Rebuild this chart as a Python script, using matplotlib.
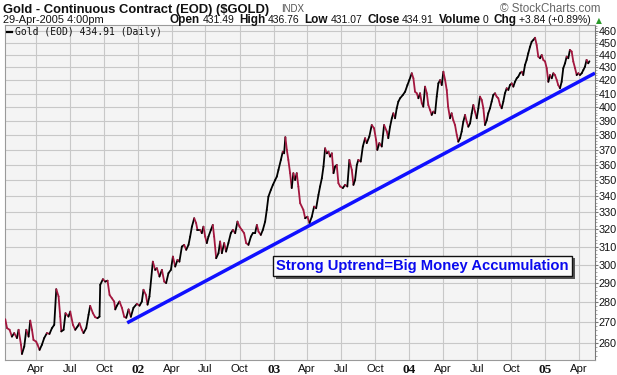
import matplotlib
matplotlib.use("Agg")
import matplotlib.pyplot as plt
import numpy as np
from matplotlib.collections import LineCollection
from matplotlib.ticker import FixedLocator, FixedFormatter, NullLocator
from matplotlib import patheffects as pe
from matplotlib.lines import Line2D

# ---------------- data (dates as decimal years, gold close in $) ----------------
d2001 = [2001.020, 2001.033, 2001.052, 2001.069, 2001.086, 2001.106, 2001.118, 2001.136, 2001.143, 2001.160,
         2001.175, 2001.192, 2001.204, 2001.217, 2001.228, 2001.248, 2001.258, 2001.273, 2001.290, 2001.307,
         2001.327, 2001.346, 2001.364, 2001.381, 2001.396, 2001.413, 2001.425, 2001.433, 2001.450, 2001.464,
         2001.486, 2001.499, 2001.519, 2001.536, 2001.553, 2001.567, 2001.585, 2001.597, 2001.617, 2001.634,
         2001.646, 2001.666, 2001.683, 2001.700, 2001.715, 2001.720, 2001.740, 2001.757, 2001.774, 2001.789,
         2001.806, 2001.823, 2001.831, 2001.843, 2001.862, 2001.880, 2001.897, 2001.912, 2001.929, 2001.946,
         2001.965, 2001.990]
p2001 = [271.5, 267.1, 266.3, 263.0, 264.7, 262.3, 266.3, 259.1, 254.8, 258.3,
         266.3, 263.0, 270.8, 266.3, 261.4, 260.6, 259.1, 256.7, 259.1, 262.3,
         264.7, 264.3, 267.1, 268.7, 286.8, 283.0, 272.8, 265.5, 266.3, 274.5,
         272.8, 275.3, 268.7, 266.3, 267.9, 269.5, 266.3, 264.7, 267.1, 273.7,
         278.2, 274.5, 272.5, 272.0, 272.8, 289.1, 292.1, 290.8, 291.3, 283.8,
         282.1, 280.4, 276.4, 278.3, 280.4, 277.2, 272.7, 272.2, 276.4, 272.7,
         277.2, 279.2]

d2002 = [2002.010, 2002.027, 2002.039, 2002.057, 2002.069, 2002.083,
         2002.088, 2002.108, 2002.125, 2002.138, 2002.157, 2002.175, 2002.192, 2002.206, 2002.223, 2002.241,
         2002.256, 2002.273, 2002.290, 2002.304, 2002.322, 2002.339, 2002.354, 2002.371, 2002.383, 2002.396,
         2002.413, 2002.427, 2002.437, 2002.457, 2002.469, 2002.481, 2002.494, 2002.506, 2002.518, 2002.536,
         2002.550, 2002.560, 2002.575, 2002.592, 2002.604, 2002.617, 2002.634, 2002.648, 2002.665, 2002.683,
         2002.698, 2002.715, 2002.732, 2002.747, 2002.764, 2002.781, 2002.796, 2002.813, 2002.831, 2002.845,
         2002.862, 2002.875, 2002.887, 2002.904, 2002.919, 2002.936, 2002.948, 2002.960, 2002.978, 2002.993]
p2002 = [278.3, 280.4, 286.5, 283.8, 278.8, 283.0,
         286.5, 301.6, 297.1, 298.0, 293.5, 297.1, 290.8, 290.0, 295.3, 297.1,
         304.4, 298.9, 302.6, 301.6, 310.0, 311.0, 308.2, 311.0, 315.7, 321.5,
         326.5, 323.6, 319.6, 319.6, 317.7, 321.5, 315.7, 312.0, 315.7, 319.6,
         322.5, 315.7, 303.5, 306.3, 312.9, 306.3, 312.0, 307.2, 312.0, 317.7,
         319.6, 317.7, 324.5, 321.5, 319.6, 317.7, 312.0, 311.0, 315.7, 317.7,
         317.7, 322.5, 318.6, 316.7, 319.6, 324.5, 331.5, 339.6, 343.8, 347.0]

d2003 = [2003.010, 2003.022, 2003.034, 2003.052, 2003.066, 2003.076, 2003.085, 2003.096, 2003.107, 2003.120,
         2003.132, 2003.144, 2003.157, 2003.169, 2003.181, 2003.194, 2003.218, 2003.231, 2003.248, 2003.263,
         2003.280, 2003.297, 2003.312, 2003.329, 2003.341, 2003.354, 2003.366, 2003.378, 2003.391, 2003.403,
         2003.415, 2003.428, 2003.440, 2003.452, 2003.464, 2003.476, 2003.489, 2003.509, 2003.525, 2003.542,
         2003.557, 2003.575, 2003.587, 2003.599, 2003.612, 2003.623, 2003.641, 2003.656, 2003.673, 2003.685,
         2003.704, 2003.722, 2003.739, 2003.754, 2003.763, 2003.778, 2003.796, 2003.813, 2003.833, 2003.844,
         2003.857, 2003.870, 2003.881, 2003.894, 2003.906, 2003.918, 2003.931, 2003.951, 2003.968, 2003.985,
         2003.999]
p2003 = [350.1, 352.3, 356.6, 363.2, 368.7, 367.6, 378.6, 369.9, 363.2, 354.5,
         345.0, 354.5, 350.1, 354.5, 345.9, 335.6, 331.5, 326.5, 327.4, 323.6,
         327.4, 333.5, 332.5, 340.7, 346.0, 351.2, 358.8, 371.0, 367.6, 368.7,
         365.4, 367.6, 354.5, 358.8, 359.9, 348.1, 346.0, 345.0, 347.0, 346.0,
         363.2, 356.6, 347.0, 350.1, 359.9, 363.2, 362.1, 372.1, 377.9, 374.5,
         379.0, 387.1, 384.8, 376.7, 369.9, 374.5, 372.2, 387.1, 382.5, 377.9,
         385.9, 391.9, 395.5, 391.9, 399.1, 404.0, 406.5, 408.9, 411.4, 416.4,
         420.2]

d2004 = [2004.017, 2004.029, 2004.041, 2004.054, 2004.066, 2004.078, 2004.091, 2004.102, 2004.115, 2004.128,
         2004.139, 2004.152, 2004.164, 2004.176, 2004.189, 2004.201, 2004.213, 2004.226, 2004.238, 2004.250,
         2004.263, 2004.275, 2004.285, 2004.299, 2004.311, 2004.323, 2004.336, 2004.349, 2004.360, 2004.373,
         2004.385, 2004.397, 2004.410, 2004.422, 2004.434, 2004.447, 2004.459, 2004.471, 2004.483, 2004.496,
         2004.508, 2004.520, 2004.533, 2004.545, 2004.557, 2004.570, 2004.581, 2004.594, 2004.606, 2004.618,
         2004.631, 2004.643, 2004.655, 2004.668, 2004.680, 2004.692, 2004.704, 2004.717, 2004.729, 2004.741,
         2004.754, 2004.766, 2004.778, 2004.791, 2004.802, 2004.815, 2004.828, 2004.839, 2004.852, 2004.864,
         2004.876, 2004.889, 2004.901, 2004.913, 2004.926, 2004.938, 2004.950, 2004.963, 2004.975, 2004.987]
p2004 = [425.5, 421.6, 411.4, 410.2, 406.5, 410.2, 402.8, 400.3, 415.2, 410.2,
         401.5, 397.9, 394.3, 396.7, 395.5, 407.7, 417.7, 420.2, 416.4, 426.7,
         420.2, 412.6, 400.3, 391.9, 395.5, 390.6, 387.1, 380.1, 375.5, 377.9,
         382.5, 389.4, 394.3, 389.4, 385.9, 388.3, 395.5, 401.5, 396.7, 391.9,
         399.1, 407.7, 405.2, 399.1, 387.1, 390.6, 395.5, 399.1, 404.0, 408.9,
         410.2, 407.7, 406.5, 401.5, 399.1, 404.0, 410.2, 414.0, 412.7, 416.4,
         417.7, 415.2, 418.9, 421.6, 422.8, 425.5, 426.7, 424.1, 432.0, 436.0,
         441.3, 446.6, 450.7, 452.1, 454.0, 448.0, 438.6, 437.3, 439.9, 436.0]

d2005 = [2005.000, 2005.012, 2005.024, 2005.036, 2005.049, 2005.061, 2005.073, 2005.086, 2005.097, 2005.110,
         2005.122, 2005.134, 2005.147, 2005.159, 2005.171, 2005.183, 2005.196, 2005.208, 2005.221, 2005.233,
         2005.245, 2005.257, 2005.270, 2005.282, 2005.294, 2005.306, 2005.318, 2005.327]
p2005 = [434.7, 429.4, 418.9, 424.1, 421.6, 425.5, 424.1, 420.2, 416.4, 414.0,
         418.9, 429.4, 433.3, 438.6, 437.3, 444.0, 442.7, 434.7, 429.4, 424.1,
         425.5, 424.1, 425.5, 428.0, 430.6, 436.0, 433.3, 434.9]

trend_dates = [2001.919, 2005.368]
trend_values = [269.7, 425.6]

y_ticks = list(range(260, 461, 10))
tick_years = [2001, 2002, 2003, 2004, 2005]
tick_months = ["Jan", "Apr", "Jul", "Oct"]
year_labels = ["01", "02", "03", "04", "05"]

title = "Gold - Continuous Contract (EOD) ($GOLD)"
date_str = "29-Apr-2005 4:00pm"
ohlc = [("Open", "431.49"), ("High", "436.76"), ("Low", "431.07"), ("Close", "434.91"),
        ("Volume", "0"), ("Chg", "+3.84 (+0.89%)")]
legend_text = "Gold (EOD) 434.91 (Daily)"
note_text = "Strong Uptrend=Big Money Accumulation"

SANS = "Liberation Sans"
plt.rcParams["font.family"] = [SANS, "DejaVu Sans"]

# ---------------- figure ----------------
W, H = 617, 375
fig = plt.figure(figsize=(W / 100, H / 100), dpi=100)
fig.patch.set_facecolor("white")
ax = fig.add_axes([5 / W, 1 - 360 / H, 590 / W, 335 / H])
ax.set_facecolor("#f4f4f4")
ax.set_yscale("log")
ax.set_xlim(2001.018, 2005.368)
ax.set_ylim(252.0, 464.7)

# price line coloured by direction (up = black, down = red)
dates = np.array(d2001 + d2002 + d2003 + d2004 + d2005)
prices = np.array(p2001 + p2002 + p2003 + p2004 + p2005)
pts = np.column_stack([dates, prices])
segs = np.stack([pts[:-1], pts[1:]], axis=1)
cols = ["#000000" if b >= a else "#a3173f" for a, b in zip(prices[:-1], prices[1:])]
lc = LineCollection(segs, colors=cols, linewidths=1.3, zorder=3, capstyle="round", joinstyle="round")
ax.add_collection(lc)

# trend line
ax.plot(trend_dates, trend_values, color="#1010ff", lw=2.5, zorder=4, solid_capstyle="butt")

# y axis
ax.yaxis.set_major_locator(FixedLocator(y_ticks))
ax.yaxis.set_major_formatter(FixedFormatter([str(v) for v in y_ticks]))
ax.yaxis.set_minor_locator(FixedLocator(list(range(254, 465, 2))))
ax.yaxis.set_minor_formatter(FixedFormatter([]))
ax.yaxis.tick_right()
ax.tick_params(axis="y", which="major", length=2.2, width=0.8, color="#777777", pad=0.6,
               labelsize=7.8, labelcolor="#111111")
ax.tick_params(axis="y", which="minor", length=1.2, width=0.6, color="#999999")

# x axis: quarterly ticks
month_frac = {"Jan": 0.0, "Apr": 90 / 365, "Jul": 181 / 365, "Oct": 273 / 365}
xt, xl = [], []
for yr, ylab in zip(tick_years, year_labels):
    for m in tick_months:
        pos = yr + month_frac[m]
        if 2001.018 < pos < 2005.368:
            xt.append(pos)
            xl.append(ylab if m == "Jan" else m)
ax.xaxis.set_major_locator(FixedLocator(xt))
ax.xaxis.set_major_formatter(FixedFormatter(xl))
ax.xaxis.set_minor_locator(NullLocator())
ax.tick_params(axis="x", length=0, pad=3, labelsize=8.2, labelcolor="#111111")
for lab in ax.get_xticklabels():
    if lab.get_text() in year_labels:
        lab.set_fontfamily("Liberation Serif")
        lab.set_fontweight("bold")
        lab.set_fontsize(9.5)

ax.grid(True, which="major", color="#c8c8c8", lw=0.8, zorder=0)
ax.set_axisbelow(True)
for s in ["top", "left", "bottom"]:
    ax.spines[s].set_color("#9a9a9a")
    ax.spines[s].set_linewidth(0.8)
ax.spines["right"].set_color("#777777")
ax.spines["right"].set_linewidth(0.8)

# annotation box
t = ax.text(0.708, 0.281, note_text, transform=ax.transAxes, ha="center", va="center",
            color="#0a0aee", fontweight="bold", fontfamily=SANS, fontsize=10.6, zorder=6,
            bbox=dict(boxstyle="square,pad=0.22", fc="#fbfbfb", ec="#111111", lw=1.0))
t.get_bbox_patch().set_path_effects([pe.SimplePatchShadow(offset=(2, -2), shadow_rgbFace="#555555", alpha=1.0),
                                     pe.Normal()])

# legend inside plot
fig.add_artist(Line2D([7 / W, 12 / W], [1 - 32 / H, 1 - 32 / H], color="black", lw=1.6))
fig.text(15 / W, 1 - 32 / H, legend_text, ha="left", va="center", fontsize=7.0,
         fontfamily="DejaVu Sans Mono", color="#111111")

# header texts
fig.canvas.draw()
r = fig.canvas.get_renderer()


def fit_text(x0, x1, yb, s, size0, **kw):
    a = fig.text(x0 / W, 1 - yb / H, s, ha="left", va="baseline", fontsize=size0, **kw)
    w = a.get_window_extent(r).width
    a.set_fontsize(size0 * (x1 - x0) / w)
    return a


fit_text(3, 271, 12.5, title, 10.0, fontweight="bold", color="#111111")
fig.text(281 / W, 1 - 12 / H, "INDX", ha="left", va="baseline", fontsize=7.0,
         color="#555555", fontfamily=SANS)
fig.text(600 / W, 1 - 11.5 / H, "\u00a9 StockCharts.com", ha="right", va="baseline", fontsize=8.4,
         color="#666666", fontfamily=SANS)
fit_text(3, 104, 23, date_str, 7.5, color="#111111")

# OHLC row: lay out pieces, then scale to span the reference width
base_y = 1 - 23 / H
items = []
for lbl, val in ohlc:
    items += [(lbl, True), (val, False)]


def build(scale, x0):
    arts = []
    x = x0
    for s, bold in items:
        a = fig.text(x / W, base_y, s, ha="left", va="baseline",
                     fontsize=(8.6 if bold else 7.6) * scale,
                     fontweight="bold" if bold else "normal", color="#111111")
        x = a.get_window_extent(r).x1 + (2.5 if bold else 5.0) * scale
        arts.append(a)
    return arts, x


arts, xe = build(1.0, 170)
sc = (592 - 170) / (xe - 170)
for a in arts:
    a.remove()
arts, xe = build(sc, 170)
fig.text(xe / W, base_y, "\u25b2", ha="left", va="baseline", fontsize=5.5, color="#2a9a2a",
         fontfamily="DejaVu Sans")

fig.savefig("out.png", dpi=100, facecolor="white")
